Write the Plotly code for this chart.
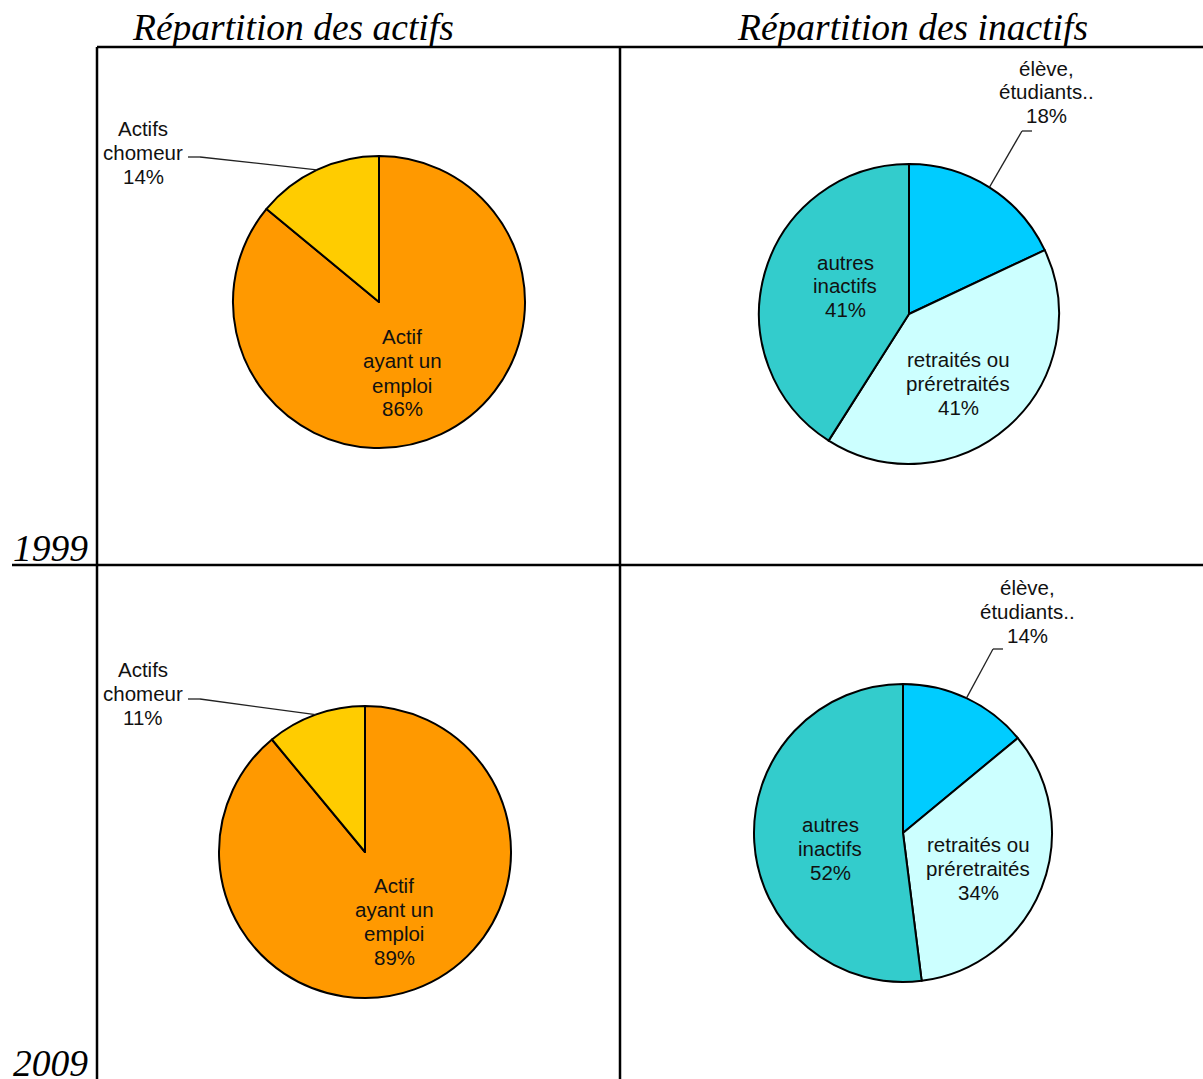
import math
import plotly.graph_objects as go

# ---- data -------------------------------------------------------------
column_titles = ["Répartition des actifs", "Répartition des inactifs"]
years = ["1999", "2009"]

actifs_labels = ["Actif\nayant un\nemploi", "Actifs\nchomeur"]
actifs_1999 = [86, 14]
actifs_2009 = [89, 11]

inactifs_labels = ["élève,\nétudiants..", "retraités ou\npréretraités", "autres\ninactifs"]
inactifs_1999 = [18, 41, 41]
inactifs_2009 = [14, 34, 52]

actifs_colors = ["#FF9900", "#FFCC00"]
inactifs_colors = ["#00CCFF", "#CCFFFF", "#33CCCC"]

# ---- page geometry ----------------------------------------------------
W, H = 1203, 1079
TEXT = "#111111"
LABEL_FONT = dict(family="Liberation Sans, Arial, sans-serif", size=20.5, color=TEXT)
SERIF = dict(family="Liberation Serif, Times New Roman, serif", size=37.5, color="#000000")
LINE_STEP = 24


def px(x):
    return x / W


def py(y):
    return 1 - y / H


# one entry per pie: centre / radius in pixels, plus how each slice is labelled
panels = [
    dict(values=actifs_1999, labels=actifs_labels, colors=actifs_colors,
         cx=379, cy=302, r=146,
         place=[dict(kind="in", x=402, y=337),
                dict(kind="out", x=143, y=128, elbow=(200, 157), tick=(188, 157))]),
    dict(values=inactifs_1999, labels=inactifs_labels, colors=inactifs_colors,
         cx=909, cy=314, r=150,
         place=[dict(kind="out", x=1046, y=68, elbow=(1022, 131), tick=(1032, 131)),
                dict(kind="in", x=958, y=359),
                dict(kind="in", x=845, y=262)]),
    dict(values=actifs_2009, labels=actifs_labels, colors=actifs_colors,
         cx=365, cy=852, r=146,
         place=[dict(kind="in", x=394, y=885),
                dict(kind="out", x=143, y=669, elbow=(200, 699), tick=(188, 699))]),
    dict(values=inactifs_2009, labels=inactifs_labels, colors=inactifs_colors,
         cx=903, cy=833, r=149,
         place=[dict(kind="out", x=1027, y=587, elbow=(993, 649), tick=(1003, 649)),
                dict(kind="in", x=978, y=844),
                dict(kind="in", x=830, y=824)]),
]

fig = go.Figure()
annotations = []
shapes = []

for p in panels:
    cx, cy, r = p["cx"], p["cy"], p["r"]
    fig.add_trace(go.Pie(
        values=p["values"],
        labels=[lab.replace("\n", " ") for lab in p["labels"]],
        sort=False,
        direction="clockwise",
        rotation=0,
        marker=dict(colors=p["colors"], line=dict(color="#000000", width=2)),
        textinfo="none",
        hoverinfo="label+percent",
        showlegend=False,
        domain=dict(x=[px(cx - r), px(cx + r)], y=[py(cy + r), py(cy - r)]),
    ))

    total = sum(p["values"])
    cum = 0
    for val, lab, pl in zip(p["values"], p["labels"], p["place"]):
        mid = 2 * math.pi * (cum + val / 2) / total
        cum += val
        lines = lab.split("\n") + [f"{val}%"]
        for i, line in enumerate(lines):
            annotations.append(dict(
                x=px(pl["x"]), y=py(pl["y"] + i * LINE_STEP),
                xref="paper", yref="paper", xanchor="center", yanchor="middle",
                text=line, showarrow=False, font=LABEL_FONT,
            ))
        if pl["kind"] == "out":
            # leader line from the middle of the slice's arc to the label
            ex = cx + r * math.sin(mid)
            ey = cy - r * math.cos(mid)
            bx, by = pl["elbow"]
            tx, ty = pl["tick"]
            for (x0, y0, x1, y1) in [(ex, ey, bx, by), (bx, by, tx, ty)]:
                shapes.append(dict(type="line", xref="paper", yref="paper",
                                   x0=px(x0), y0=py(y0), x1=px(x1), y1=py(y1),
                                   line=dict(color="#222222", width=1.3)))

# frame of the 2x2 layout
frame = [(97, 47, 1203, 47), (97, 47, 97, 1079), (620, 47, 620, 1079), (12, 565, 1203, 565)]
for (x0, y0, x1, y1) in frame:
    shapes.append(dict(type="line", xref="paper", yref="paper",
                       x0=px(x0), y0=py(y0), x1=px(x1), y1=py(y1),
                       line=dict(color="#000000", width=2.5)))

# column headings
for title, xc in zip(column_titles, [293, 912]):
    annotations.append(dict(x=px(xc), y=py(27), xref="paper", yref="paper",
                            xanchor="center", yanchor="middle", showarrow=False,
                            text=f"<i>{title}</i>", font=SERIF))

# row (year) labels
for year, yc in zip(years, [548, 1063]):
    annotations.append(dict(x=px(11), y=py(yc), xref="paper", yref="paper",
                            xanchor="left", yanchor="middle", showarrow=False,
                            text=f"<i>{year}</i>", font=SERIF))

fig.update_layout(
    width=W, height=H, autosize=False,
    margin=dict(l=0, r=0, t=0, b=0),
    paper_bgcolor="#FFFFFF", plot_bgcolor="#FFFFFF",
    annotations=annotations, shapes=shapes,
)

fig.write_html("out.html")
